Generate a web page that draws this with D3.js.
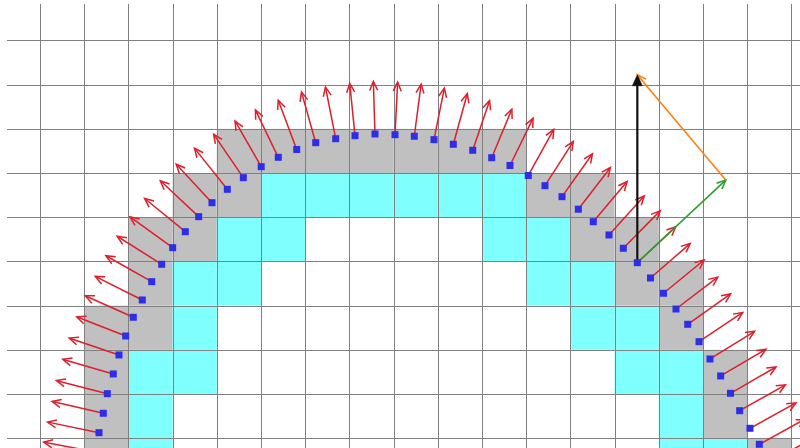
<!DOCTYPE html>
<html>
<head>
<meta charset="utf-8">
<script src="https://cdn.jsdelivr.net/npm/d3@7"></script>
<style>
body{margin:0;background:#fff;}
svg{display:block;}
</style>
</head>
<body>
<div id="chart"></div>
<script>
// grid lines (cell units)
var xTicks = [0,1,2,3,4,5,6,7,8,9,10,11,12,13,14,15,16,17];
var yTicks = [0,1,2,3,4,5,6,7,8,9];

// cut cells (lower-left corner [col,row])
var grayCells = [
  [4,6],[5,6],[6,6],[7,6],[8,6],[9,6],[10,6],
  [3,5],[4,5],[11,5],[12,5],
  [2,4],[3,4],[12,4],[13,4],
  [2,3],[13,3],[14,3],
  [1,2],[2,2],[14,2],
  [1,1],[15,1],
  [1,0],[15,0],
  [1,-1],[16,-1]
];
// first layer of inner cells
var cyanCells = [
  [5,5],[6,5],[7,5],[8,5],[9,5],[10,5],
  [4,4],[5,4],[10,4],[11,4],
  [3,3],[4,3],[11,3],[12,3],
  [3,2],[12,2],[13,2],
  [2,1],[3,1],[13,1],[14,1],
  [2,0],[14,0],
  [2,-1],[14,-1],[15,-1]
];

// boundary points, left to right
var boundaryPts = [
  [1.251,-0.310],[1.335,0.127],[1.432,0.566],[1.523,1.009],[1.658,1.455],
  [1.787,1.885],[1.939,2.314],[2.111,2.738],[2.314,3.129],[2.527,3.543],
  [2.753,3.937],[3.002,4.312],[3.287,4.674],[3.590,5.014],[3.891,5.330],
  [4.238,5.633],[4.600,5.896],[5.005,6.145],[5.391,6.357],[5.808,6.534],
  [6.238,6.688],[6.690,6.778],[7.127,6.846],[7.579,6.885],[8.032,6.869],
  [8.468,6.833],[8.914,6.756],[9.351,6.652],[9.790,6.516],[10.219,6.348],
  [10.633,6.172],[11.047,5.946],[11.425,5.715],[11.810,5.466],[12.179,5.183],
  [12.518,4.900],[12.873,4.600],[13.197,4.299],[13.514,3.973],[13.812,3.627],
  [14.106,3.281],[14.389,2.925],[14.654,2.579],[14.910,2.186],[15.158,1.794],
  [15.400,1.410],[15.622,1.018],[15.830,0.624],[16.063,0.226],[16.274,-0.136],
  [16.482,-0.536]
];

var normalLen = 1.19;   // red normal arrows
var probeIdx = 38;      // point with the decomposition
var verticalLen = 4.25; // black
var normalPart = 2.74;  // green

var W = 800, H = 448;
var svg = d3.select("#chart").append("svg").attr("width", W).attr("height", H);

var x = d3.scaleLinear().domain([-0.75, 17.2]).range([6.85, 800.24]);
var y = d3.scaleLinear().domain([-0.22, 9.83]).range([448.0, 3.81]);
var cell = x(1) - x(0);

svg.append("clipPath").attr("id","plotclip").append("rect")
  .attr("x", x(-0.75)).attr("y", y(9.83))
  .attr("width", x(17.2)-x(-0.75)).attr("height", y(-0.22)-y(9.83));

var plot = svg.append("g").attr("clip-path","url(#plotclip)");

function drawCells(list, color){
  plot.append("g").selectAll("rect").data(list).enter().append("rect")
    .attr("x", function(d){return x(d[0]);})
    .attr("y", function(d){return y(d[1]+1);})
    .attr("width", function(d){return x(d[0]+1)-x(d[0]);})
    .attr("height", function(d){return y(d[1])-y(d[1]+1);})
    .attr("fill", color);
}
drawCells(grayCells, "#c0c0c0");
drawCells(cyanCells, "#80ffff");

var grid = plot.append("g").attr("stroke","#808080").attr("stroke-width",1);
grid.selectAll("line.v").data(xTicks).enter().append("line").attr("class","v")
  .attr("x1", function(d){return Math.round(x(d))+0.5;})
  .attr("x2", function(d){return Math.round(x(d))+0.5;})
  .attr("y1", y(9.83)).attr("y2", y(-0.22));
grid.selectAll("line.h").data(yTicks).enter().append("line").attr("class","h")
  .attr("y1", function(d){return Math.round(y(d))+0.5;})
  .attr("y2", function(d){return Math.round(y(d))+0.5;})
  .attr("x1", x(-0.75)).attr("x2", x(17.2));

// arrow helper
function arrow(g, p0, p1, color, lw, hl, hw, filled){
  var dx = p1[0]-p0[0], dy = p1[1]-p0[1];
  var L = Math.sqrt(dx*dx+dy*dy);
  var ux = dx/L, uy = dy/L, nx = -uy, ny = ux;
  var bx = p1[0]-ux*hl, by = p1[1]-uy*hl;
  g.append("line")
    .attr("x1",p0[0]).attr("y1",p0[1])
    .attr("x2", filled ? bx+ux*1 : p1[0]-ux*0.5).attr("y2", filled ? by+uy*1 : p1[1]-uy*0.5)
    .attr("stroke",color).attr("stroke-width",lw).attr("stroke-linecap","butt");
  var hd = "M"+(bx+nx*hw)+","+(by+ny*hw)+"L"+p1[0]+","+p1[1]+"L"+(bx-nx*hw)+","+(by-ny*hw);
  if(filled){
    g.append("path").attr("d", hd+"Z").attr("fill",color).attr("stroke",color)
      .attr("stroke-width",0.5).attr("stroke-linejoin","miter");
  } else {
    g.append("path").attr("d", hd).attr("fill","none").attr("stroke",color)
      .attr("stroke-width",lw).attr("stroke-linejoin","miter");
  }
}

var pts = boundaryPts.map(function(d){ return [x(d[0]), y(d[1])]; });
// outward normal from the neighbours (two on each side where possible)
var normals = pts.map(function(p, i){
  var k = (i >= 2 && i <= pts.length-3) ? 2 : 1;
  var a = pts[Math.max(i-k,0)], b = pts[Math.min(i+k,pts.length-1)];
  var tx = b[0]-a[0], ty = b[1]-a[1];
  var l = Math.sqrt(tx*tx+ty*ty);
  return [ty/l, -tx/l];
});

var redG = plot.append("g");
pts.forEach(function(p, i){
  var n = normals[i];
  var tip = [p[0]+n[0]*normalLen*cell, p[1]+n[1]*normalLen*cell];
  arrow(redG, p, tip, "#dc1f2b", 1.5, 9, 4, false);
});

// decomposition at the probe point
var vecG = plot.append("g");
var pp = pts[probeIdx], pn = normals[probeIdx];
var blackTip = [pp[0], pp[1]-verticalLen*cell];
var greenTip = [pp[0]+pn[0]*normalPart*cell, pp[1]+pn[1]*normalPart*cell];
arrow(vecG, pp, greenTip, "#2ca02c", 1.6, 9, 4, false);
arrow(vecG, greenTip, blackTip, "#ff7f0e", 1.6, 9, 4, false);
arrow(vecG, pp, blackTip, "#111111", 2.2, 11, 5, true);

// boundary markers
plot.append("g").selectAll("rect").data(pts).enter().append("rect")
  .attr("x", function(d){return d[0]-3.5;})
  .attr("y", function(d){return d[1]-3.5;})
  .attr("width",7).attr("height",7)
  .attr("fill","#2e2ee6");
</script>
</body>
</html>
